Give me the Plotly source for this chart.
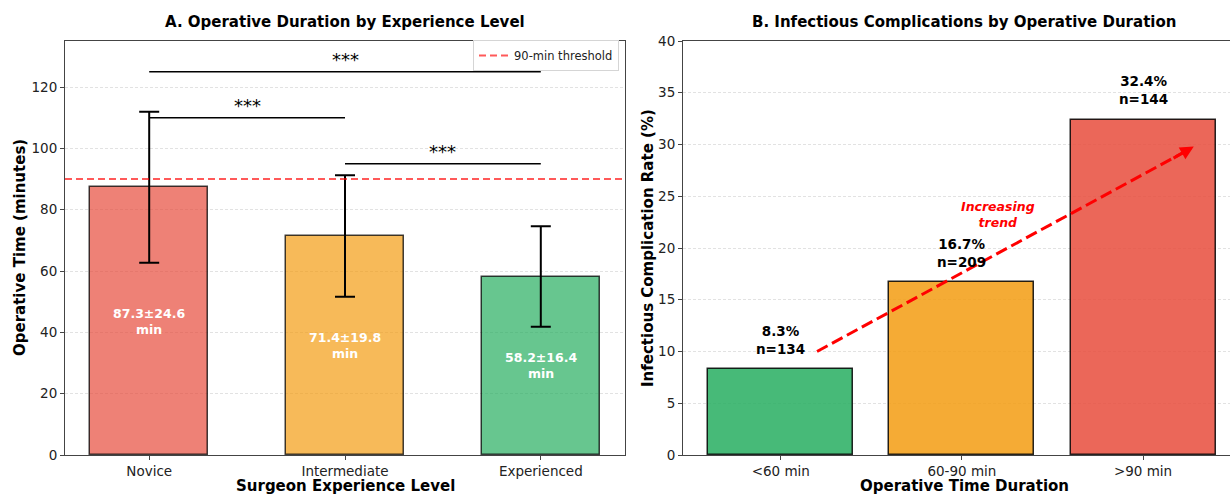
import plotly.graph_objects as go

# Panel A: operative duration by surgeon experience
experience_levels = ["Novice", "Intermediate", "Experienced"]
mean_time = [87.3, 71.4, 58.2]
sd_time = [24.6, 19.8, 16.4]
exp_colors = ["#e74c3c", "#f39c12", "#27ae60"]
threshold_min = 90
# significance comparisons: (group a, group b, bracket height)
sig_pairs = [(0, 1, 110), (1, 2, 95), (0, 2, 125)]
sig_text = "***"

# Panel B: infectious complications by operative duration
duration_groups = ["<60 min", "60-90 min", ">90 min"]
infection_rate = [8.3, 16.7, 32.4]
group_n = [134, 209, 144]
dur_colors = ["#27ae60", "#f39c12", "#e74c3c"]

FONT = "DejaVu Sans"
W, H = 1230, 495
ML, MR, MT, MB = 65, 0, 41, 40
PW = W - ML - MR
PH = H - MT - MB


def rgba(hex_color, alpha):
    h = hex_color.lstrip("#")
    r, g, b = int(h[0:2], 16), int(h[2:4], 16), int(h[4:6], 16)
    return f"rgba({r},{g},{b},{alpha})"


def px_x(px):
    return (px - ML) / PW


def px_y(py):
    return (H - MB - py) / PH


xa = list(range(len(experience_levels)))
xb = list(range(len(duration_groups)))

fig = go.Figure()

# Panel A bars with SD error bars
fig.add_trace(go.Bar(
    x=xa, y=mean_time, width=0.6,
    marker=dict(color=[rgba(c, 0.7) for c in exp_colors],
                line=dict(color="rgba(0,0,0,0.75)", width=1.5)),
    error_y=dict(type="data", array=sd_time, visible=True,
                 color="black", thickness=2, width=10),
    showlegend=False, hoverinfo="skip", xaxis="x", yaxis="y",
))

# 90-minute threshold reference line
fig.add_trace(go.Scatter(
    x=[-0.43, 2.43], y=[threshold_min, threshold_min], mode="lines",
    line=dict(color="rgba(255,0,0,0.65)", width=2, dash="7px,4px"),
    name="90-min threshold", showlegend=True, xaxis="x", yaxis="y",
))

# Significance brackets
for a, b, h in sig_pairs:
    fig.add_trace(go.Scatter(
        x=[xa[a], xa[b]], y=[h, h], mode="lines",
        line=dict(color="black", width=1.5),
        showlegend=False, hoverinfo="skip", xaxis="x", yaxis="y",
    ))

# Panel B bars
fig.add_trace(go.Bar(
    x=xb, y=infection_rate, width=0.8,
    marker=dict(color=[rgba(c, 0.85) for c in dur_colors],
                line=dict(color="rgba(0,0,0,0.85)", width=1.5)),
    showlegend=False, hoverinfo="skip", xaxis="x2", yaxis="y2",
))

# Trend arrow shaft (dashed)
arrow_start = (0.2, 10)
arrow_end = (2.28, 29.8)
fig.add_trace(go.Scatter(
    x=[arrow_start[0], arrow_end[0] - 0.06], y=[arrow_start[1], arrow_end[1] - 0.6],
    mode="lines", line=dict(color="red", width=3, dash="12px,5px"),
    showlegend=False, hoverinfo="skip", xaxis="x2", yaxis="y2",
))

annotations = []

# Bar value labels inside panel A bars
for x, m, s in zip(xa, mean_time, sd_time):
    annotations.append(dict(
        x=x, y=m / 2, xref="x", yref="y",
        text=f"{m:.1f}±{s:.1f}<br>min", showarrow=False,
        font=dict(family=FONT, size=12.5, color="white", weight="bold"),
        xanchor="center", yanchor="middle",
    ))

# Significance stars
for a, b, h in sig_pairs:
    annotations.append(dict(
        x=(xa[a] + xa[b]) / 2, y=h + 4, xref="x", yref="y",
        text=sig_text, showarrow=False,
        font=dict(family=FONT, size=18, color="black"),
        xanchor="center", yanchor="middle",
    ))

# Rate labels above panel B bars
for x, r, n in zip(xb, infection_rate, group_n):
    annotations.append(dict(
        x=x, y=r + 1, xref="x2", yref="y2",
        text=f"{r:.1f}%<br>n={n}", showarrow=False,
        font=dict(family=FONT, size=13.5, color="black", weight="bold"),
        xanchor="center", yanchor="bottom",
    ))

# Arrow head for the trend line
annotations.append(dict(
    x=arrow_end[0], y=arrow_end[1], ax=arrow_end[0] - 0.12, ay=arrow_end[1] - 1.2,
    xref="x2", yref="y2", axref="x2", ayref="y2",
    text="", showarrow=True, arrowhead=2, arrowsize=0.9, arrowwidth=3,
    arrowcolor="red", standoff=0, startstandoff=0,
))
annotations.append(dict(
    x=1.2, y=23.2, xref="x2", yref="y2",
    text="Increasing<br>trend", showarrow=False,
    font=dict(family=FONT, size=12.5, color="red", weight="bold", style="italic"),
    xanchor="center", yanchor="middle",
))

# Panel titles
annotations.append(dict(
    x=px_x(345), y=px_y(22), xref="paper", yref="paper",
    text="A. Operative Duration by Experience Level", showarrow=False,
    font=dict(family=FONT, size=15, color="black", weight="bold"),
    xanchor="center", yanchor="middle",
))
annotations.append(dict(
    x=px_x(964), y=px_y(22), xref="paper", yref="paper",
    text="B. Infectious Complications by Operative Duration", showarrow=False,
    font=dict(family=FONT, size=15, color="black", weight="bold"),
    xanchor="center", yanchor="middle",
))

# Axis titles
annotations.append(dict(
    x=px_x(345), y=px_y(486), xref="paper", yref="paper",
    text="Surgeon Experience Level", showarrow=False,
    font=dict(family=FONT, size=15, color="black", weight="bold"),
    xanchor="center", yanchor="middle",
))
annotations.append(dict(
    x=px_x(964), y=px_y(486), xref="paper", yref="paper",
    text="Operative Time Duration", showarrow=False,
    font=dict(family=FONT, size=15, color="black", weight="bold"),
    xanchor="center", yanchor="middle",
))
annotations.append(dict(
    x=px_x(20), y=px_y(248), xref="paper", yref="paper",
    text="Operative Time (minutes)", showarrow=False, textangle=-90,
    font=dict(family=FONT, size=15, color="black", weight="bold"),
    xanchor="center", yanchor="middle",
))
annotations.append(dict(
    x=px_x(648), y=px_y(248), xref="paper", yref="paper",
    text="Infectious Complication Rate (%)", showarrow=False, textangle=-90,
    font=dict(family=FONT, size=15, color="black", weight="bold"),
    xanchor="center", yanchor="middle",
))

tick_font = dict(family=FONT, size=13.5, color="#222")
spine = "#444"
grid = dict(showgrid=True, gridcolor="#e2e2e2", griddash="3px,2px", gridwidth=1)

fig.update_layout(
    width=W, height=H,
    margin=dict(l=ML, r=MR, t=MT, b=MB),
    paper_bgcolor="white", plot_bgcolor="white",
    font=dict(family=FONT),
    bargap=0,
    xaxis=dict(domain=[0, px_x(625)], range=[-0.43, 2.43],
               tickvals=xa, ticktext=experience_levels, tickfont=tick_font,
               ticks="outside", ticklen=4, tickcolor=spine,
               showline=True, linecolor=spine, linewidth=1, mirror=True,
               showgrid=False, zeroline=False, fixedrange=True),
    yaxis=dict(domain=[0, 1], range=[0, 135], anchor="x",
               tickvals=[0, 20, 40, 60, 80, 100, 120], tickfont=tick_font,
               ticks="outside", ticklen=4, tickcolor=spine,
               showline=True, linecolor=spine, linewidth=1, mirror=True,
               zeroline=False, **grid),
    xaxis2=dict(domain=[px_x(683), 1], range=[-0.54, 2.48], anchor="y2",
                tickvals=xb, ticktext=duration_groups, tickfont=tick_font,
                ticks="outside", ticklen=4, tickcolor=spine,
                showline=True, linecolor=spine, linewidth=1, mirror=True,
                showgrid=False, zeroline=False),
    yaxis2=dict(domain=[0, 1], range=[0, 40], anchor="x2",
                tickvals=[0, 5, 10, 15, 20, 25, 30, 35, 40], tickfont=tick_font,
                ticks="outside", ticklen=4, tickcolor=spine,
                showline=True, linecolor=spine, linewidth=1, mirror=False,
                zeroline=False, **grid),
    legend=dict(x=px_x(619), y=px_y(40), xanchor="right", yanchor="top",
                bgcolor="white", bordercolor="#d5d5d5", borderwidth=1,
                font=dict(family=FONT, size=11.5, color="#222"),
                itemwidth=30, tracegroupgap=0),
    annotations=annotations,
)

fig.write_html("out.html")
